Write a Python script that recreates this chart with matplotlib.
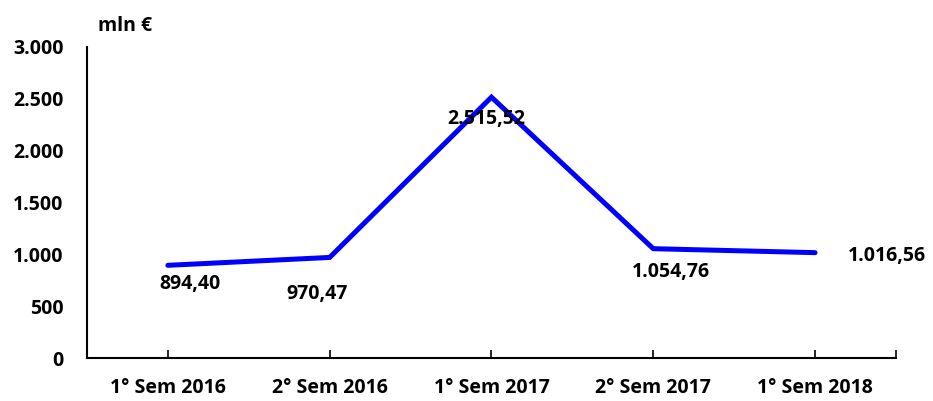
import matplotlib.pyplot as plt
from matplotlib.ticker import FuncFormatter

categories = ["1° Sem 2016", "2° Sem 2016", "1° Sem 2017", "2° Sem 2017", "1° Sem 2018"]
values = [894.40, 970.47, 2515.52, 1054.76, 1016.56]
value_labels = ["894,40", "970,47", "2.515,52", "1.054,76", "1.016,56"]
# label offsets in points (dx, dy) relative to each point
label_offsets = [(16, -13.5), (-9, -26), (-3.6, -15.5), (13, -16.5), (52, -2.5)]

plt.rcParams['font.family'] = ['Open Sans', 'DejaVu Sans']
plt.rcParams['font.weight'] = 'bold'

fig = plt.figure(figsize=(9.33, 4.01), dpi=100)
ax = fig.add_axes([0.0932, 0.107, 0.8671, 0.776])

x = list(range(len(categories)))
ax.plot(x, values, color="#0000FF", linewidth=3.6, solid_joinstyle="miter",
        solid_capstyle="round")

for xi, v, lab, off in zip(x, values, value_labels, label_offsets):
    ax.annotate(lab, (xi, v), xytext=off, textcoords="offset points",
                ha="center", va="center", fontsize=14, fontweight="bold")

ax.set_xlim(-0.5, 4.5)
ax.set_ylim(0, 3000)
ax.set_yticks([0, 500, 1000, 1500, 2000, 2500, 3000])
ax.yaxis.set_major_formatter(FuncFormatter(lambda v, p: f"{int(v):,}".replace(",", ".")))
ax.set_xticks(x)
ax.set_xticks([4.5], minor=True)
ax.set_xticklabels(categories)

ax.spines["top"].set_visible(False)
ax.spines["right"].set_visible(False)
ax.spines["left"].set_linewidth(1.5)
ax.spines["bottom"].set_linewidth(1.5)
ax.tick_params(axis="y", length=0, pad=17, labelsize=14)
ax.tick_params(axis="x", which="both", direction="in", length=6, width=1.2,
               pad=14, labelsize=14)

fig.text(0.105, 0.935, "mln €", fontsize=14, fontweight="bold", ha="left", va="center")

fig.savefig("out.png", dpi=100)
